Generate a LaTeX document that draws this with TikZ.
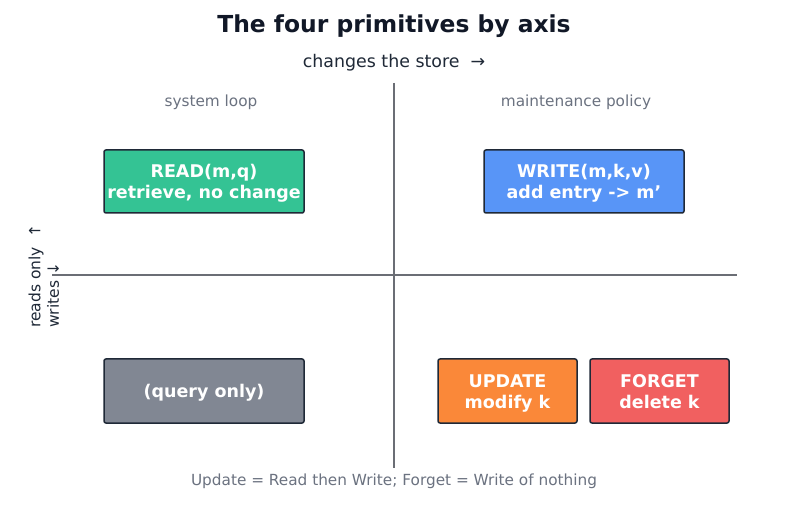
\documentclass[tikz,border=0pt]{standalone}
\usepackage{fontspec}
\setmainfont{DejaVu Sans}[Ligatures=ResetAll]
\definecolor{titlec}{HTML}{111827}
\definecolor{darkc}{HTML}{1F2937}
\definecolor{grayc}{HTML}{6B7280}
\definecolor{axisc}{HTML}{6B6E75}
\definecolor{greenc}{HTML}{34C394}
\definecolor{bluec}{HTML}{5895F7}
\definecolor{slatec}{HTML}{818793}
\definecolor{orangec}{HTML}{FA8839}
\definecolor{redc}{HTML}{F16060}
\newcommand\ls{\vphantom{Ajy}}
\newcommand\tp{\rule{0pt}{17pt}}
\tikzset{
  box/.style={draw=darkc, line width=1.5pt, rounded corners=2pt, text=white,
    font=\fontsize{17.5}{21}\selectfont\bfseries, align=center, inner sep=0pt,
    minimum height=63pt},
  axisline/.style={draw=axisc, line width=1.5pt},
  graylabel/.style={text=grayc, font=\fontsize{15.3}{18}\selectfont, inner sep=0pt},
  darklabel/.style={text=darkc, font=\fontsize{15.5}{18}\selectfont, inner sep=0pt},
}
\begin{document}
\begin{tikzpicture}[x=1pt,y=-1pt]
\useasboundingbox[fill=white] (0,0) rectangle (787,510);
% title
\node[text=titlec, font=\fontsize{23.4}{28}\selectfont\bfseries, inner sep=0pt] (title) at (394,26.5) {The four primitives by axis\ls};
\node[text=darkc, font=\fontsize{17.4}{21}\selectfont, inner sep=0pt] (xlabel) at (394,62.5) {changes the store\ \ →\ls};
% axes
\coordinate (vtop) at (394,83);
\coordinate (vbot) at (394,468);
\coordinate (hleft) at (52,275);
\coordinate (hright) at (737,275);
\draw[axisline] (vtop) -- (vbot);
\draw[axisline] (hleft) -- (hright);
% quadrant labels
\node[graylabel] (sys) at (211,102) {system loop\ls};
\node[graylabel] (maint) at (576,102) {maintenance policy\ls};
% y labels
\node[darklabel, rotate=90, anchor=west] (ylab1) at (36,328) {reads only\ \ ↑};
\node[darklabel, rotate=90, anchor=west] (ylab2) at (53,328) {writes ↓};
% boxes
\node[box, fill=greenc, minimum width=200pt] (read) at (204,181.5) {\tp READ(m,q)\ls\\retrieve, no change\ls};
\node[box, fill=bluec, minimum width=200pt] (write) at (584,181.5) {\tp WRITE(m,k,v)\ls\\add entry -> m'\ls};
\node[box, fill=slatec, minimum width=200pt, minimum height=64pt] (query) at (204,391) {\tp (query only)\ls};
\node[box, fill=orangec, minimum width=139pt, minimum height=64pt] (update) at (507.5,391) {\tp UPDATE\ls\\modify k\ls};
\node[box, fill=redc, minimum width=139pt, minimum height=64pt] (forget) at (659.5,391) {\tp FORGET\ls\\delete k\ls};
% footer
\node[graylabel] (foot) at (394,481) {Update = Read then Write; Forget = Write of nothing\ls};
\end{tikzpicture}
\end{document}
